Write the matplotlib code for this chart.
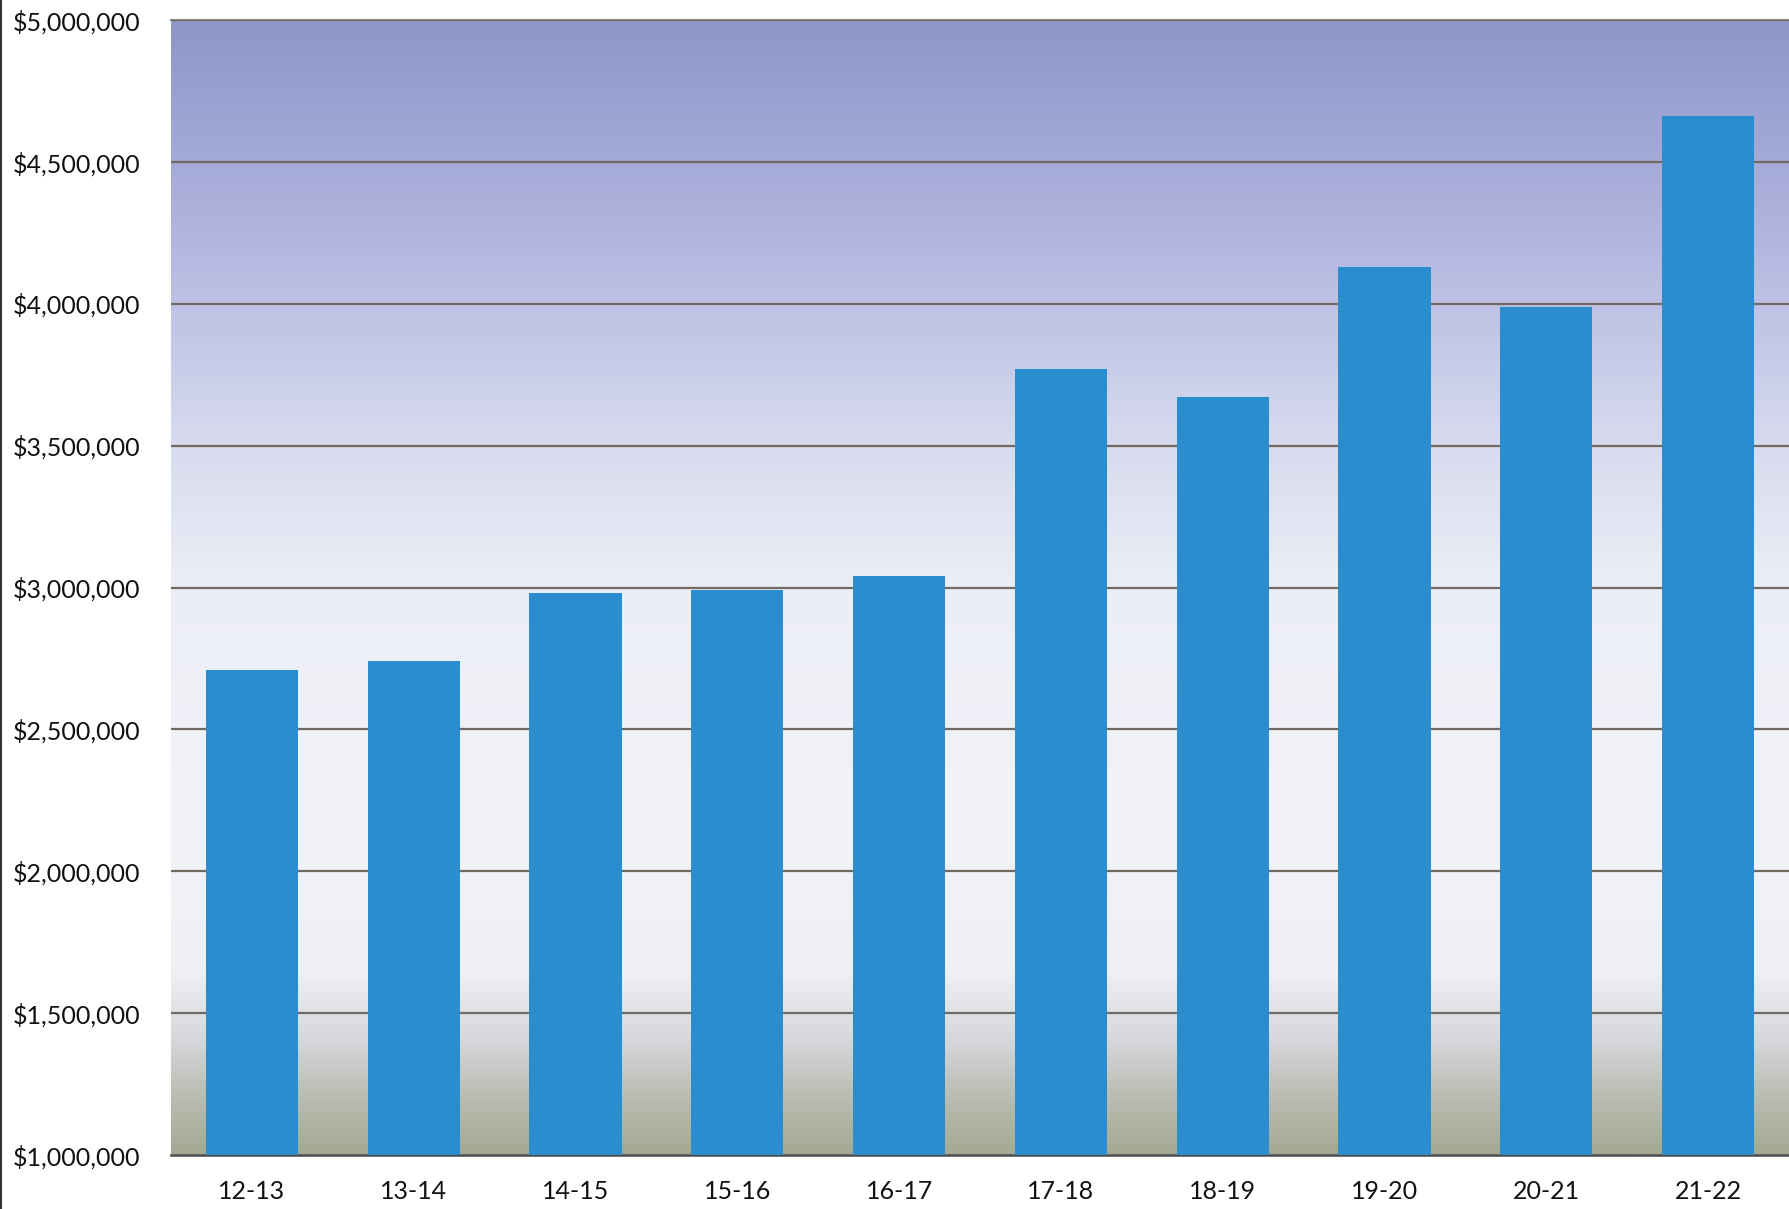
import numpy as np
import matplotlib
matplotlib.use("Agg")
import matplotlib.pyplot as plt
from matplotlib.colors import LinearSegmentedColormap
from matplotlib.ticker import FuncFormatter, MultipleLocator

categories = ["12-13", "13-14", "14-15", "15-16", "16-17",
              "17-18", "18-19", "19-20", "20-21", "21-22"]
values = [2710000, 2740000, 2980000, 2990000, 3040000,
          3770000, 3670000, 4130000, 3990000, 4660000]

plt.rcParams['font.family'] = ['Lato', 'DejaVu Sans']

fig = plt.figure(figsize=(17.9, 12.09), dpi=100)
W, H = 1790, 1209
left, right, top, bottom = 171, 1789, 20, 1155
ax = fig.add_axes([left / W, 1 - bottom / H, (right - left) / W, (bottom - top) / H])

# background gradient (bottom -> top)
stops = [
    (0.00, "#a4aa94"),
    (0.05, "#babdb2"),
    (0.10, "#d5d7db"),
    (0.16, "#eef0f4"),
    (0.30, "#f2f3f8"),
    (0.50, "#eceef6"),
    (0.62, "#d9dcef"),
    (0.80, "#b3b8e0"),
    (1.00, "#8e95c9"),
]
cmap = LinearSegmentedColormap.from_list("bg", stops)
grad = np.linspace(0, 1, 512).reshape(-1, 1)
ax.imshow(grad, cmap=cmap, origin="lower", extent=[0, 1, 0, 1],
          transform=ax.transAxes, aspect="auto", zorder=0)

x = np.arange(len(categories))
ax.bar(x, values, width=0.57, color="#2a8dcd", zorder=3)

ax.set_xlim(-0.5, len(categories) - 0.5)
ax.set_ylim(1000000, 5000000)
ax.yaxis.set_major_locator(MultipleLocator(500000))
ax.yaxis.set_major_formatter(FuncFormatter(lambda v, p: "${:,.0f}".format(v)))
ax.set_xticks(x)
ax.set_xticklabels(categories)

ax.grid(axis="y", color="#716a62", linewidth=1.6, zorder=2)
ax.set_axisbelow(False)
for gl in ax.get_ygridlines():
    gl.set_zorder(2)

ax.tick_params(axis="both", length=0, labelsize=18, colors="#111111")
ax.tick_params(axis="y", pad=22)
ax.tick_params(axis="x", pad=18)

for s in ["left", "right"]:
    ax.spines[s].set_visible(False)
ax.spines["top"].set_color("#8a8a8a")
ax.spines["top"].set_linewidth(1.5)
ax.spines["bottom"].set_color("#4a4a4a")
ax.spines["bottom"].set_linewidth(1.8)

# scan edge line at far left
fig.add_artist(plt.Line2D([0.0008, 0.0008], [0, 1], transform=fig.transFigure,
                          color="#333333", linewidth=1.5))

fig.savefig("out.png", dpi=100)
